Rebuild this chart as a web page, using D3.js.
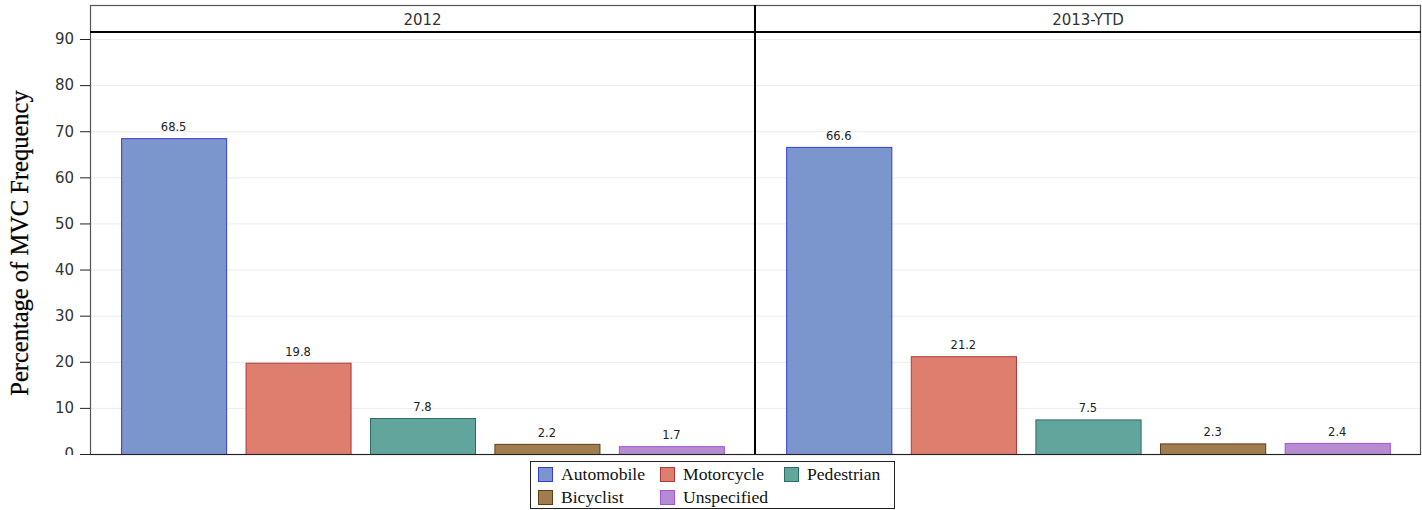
<!DOCTYPE html>
<html><head><meta charset="utf-8">
<script src="https://cdn.jsdelivr.net/npm/d3@7"></script>
<style>body{margin:0;background:#fff}svg{display:block}</style>
</head><body>
<svg id="c" width="1422" height="510"></svg>
<script>
const panels = ["2012", "2013-YTD"];
const categories = ["Automobile", "Motorcycle", "Pedestrian", "Bicyclist", "Unspecified"];
const values2012 = [68.5, 19.8, 7.8, 2.2, 1.7];
const values2013 = [66.6, 21.2, 7.5, 2.3, 2.4];
const yTicks = [0, 10, 20, 30, 40, 50, 60, 70, 80, 90];
const fills = ["#7b96cd", "#de7e6e", "#62a59c", "#a17c4f", "#b58bd1"];
const strokes = ["#3a3ad8", "#b0373c", "#2a6e62", "#5e3e14", "#a452e0"];
const yTitle = "Percentage of MVC Frequency";

(function () {
const seriesByPanel = [values2012, values2013];
const svg = d3.select("#c");
const L = 90, R = 1421, T = 5, HB = 32, B = 454;
const mid = 755;

const y = d3.scaleLinear().domain([0, 90]).range([B, 39]);
const panelX = d3.scaleOrdinal().domain(panels).range([[L, mid], [mid, R]]);

// gridlines
svg.append("g").selectAll("line").data(yTicks.filter(d => d > 0)).join("line")
  .attr("x1", L).attr("x2", R)
  .attr("y1", d => y(d) + 0.5).attr("y2", d => y(d) + 0.5)
  .attr("stroke", "#ececec").attr("stroke-width", 1);

// y axis
svg.append("clipPath").attr("id", "yc").append("rect")
  .attr("x", -L).attr("y", 0).attr("width", L).attr("height", B + 1);
const yAxis = svg.append("g").attr("transform", `translate(${L},0)`)
  .attr("clip-path", "url(#yc)")
  .call(d3.axisLeft(y).tickValues(yTicks).tickSize(10).tickPadding(6));
yAxis.select(".domain").remove();
yAxis.selectAll(".tick line").attr("stroke", "#222");
yAxis.selectAll(".tick text").attr("font-family", "DejaVu Sans").attr("font-size", 15).attr("fill", "#333");

svg.append("text").attr("transform", `translate(28,243) rotate(-90)`)
  .attr("text-anchor", "middle").attr("font-family", "Liberation Serif").attr("font-size", 24.5)
  .attr("fill", "#000").attr("stroke", "#000").attr("stroke-width", 0.25).text(yTitle);

panels.forEach((p, pi) => {
  const [x0, x1] = panelX(p);
  const x = d3.scaleBand().domain(categories).range([x0, x1]).paddingInner(0.156).paddingOuter(0.25);
  const vals = seriesByPanel[pi];
  const g = svg.append("g");
  g.selectAll("rect").data(categories).join("rect")
    .attr("x", d => x(d) + 0.5).attr("y", (d, i) => y(vals[i]) + 0.5)
    .attr("width", x.bandwidth()).attr("height", (d, i) => y(0) - y(vals[i]))
    .attr("fill", (d, i) => fills[i]).attr("stroke", (d, i) => strokes[i]).attr("stroke-width", 1);
  g.selectAll("text.v").data(categories).join("text").attr("class", "v")
    .attr("x", d => x(d) + x.bandwidth() / 2).attr("y", (d, i) => y(vals[i]) - 7)
    .attr("text-anchor", "middle").attr("font-family", "DejaVu Sans").attr("font-size", 11.5)
    .attr("fill", "#222").text((d, i) => vals[i].toFixed(1));
  svg.append("text").attr("x", (x0 + x1) / 2).attr("y", (T + HB) / 2 + 6)
    .attr("text-anchor", "middle").attr("font-family", "DejaVu Sans").attr("font-size", 15)
    .attr("fill", "#333").text(p);
});

// frame
svg.append("rect").attr("x", L + 0.5).attr("y", T + 0.5).attr("width", R - L - 1).attr("height", B - T)
  .attr("fill", "none").attr("stroke", "#555").attr("stroke-width", 1.2);
svg.append("line").attr("x1", L).attr("x2", R).attr("y1", HB).attr("y2", HB)
  .attr("stroke", "#000").attr("stroke-width", 2);
svg.append("line").attr("x1", mid).attr("x2", mid).attr("y1", T).attr("y2", B)
  .attr("stroke", "#000").attr("stroke-width", 2);
svg.append("line").attr("x1", 80).attr("x2", R).attr("y1", B + 0.5).attr("y2", B + 0.5)
  .attr("stroke", "#222").attr("stroke-width", 1.2);

// legend
const lg = svg.append("g");
lg.append("rect").attr("x", 530.5).attr("y", 461.5).attr("width", 364).attr("height", 47)
  .attr("fill", "#fff").attr("stroke", "#222").attr("stroke-width", 1);
const colX = [538, 660, 784];
categories.forEach((c, i) => {
  const cx = colX[i % 3], cy = i < 3 ? 467 : 490;
  lg.append("rect").attr("x", cx + 0.5).attr("y", cy + 0.5).attr("width", 14).attr("height", 14)
    .attr("fill", fills[i]).attr("stroke", strokes[i]).attr("stroke-width", 1);
  lg.append("text").attr("x", cx + 23).attr("y", cy + 13).attr("font-family", "Liberation Serif")
    .attr("font-size", 17.6).attr("fill", "#111").text(c);
});
})();
</script>
</body></html>
